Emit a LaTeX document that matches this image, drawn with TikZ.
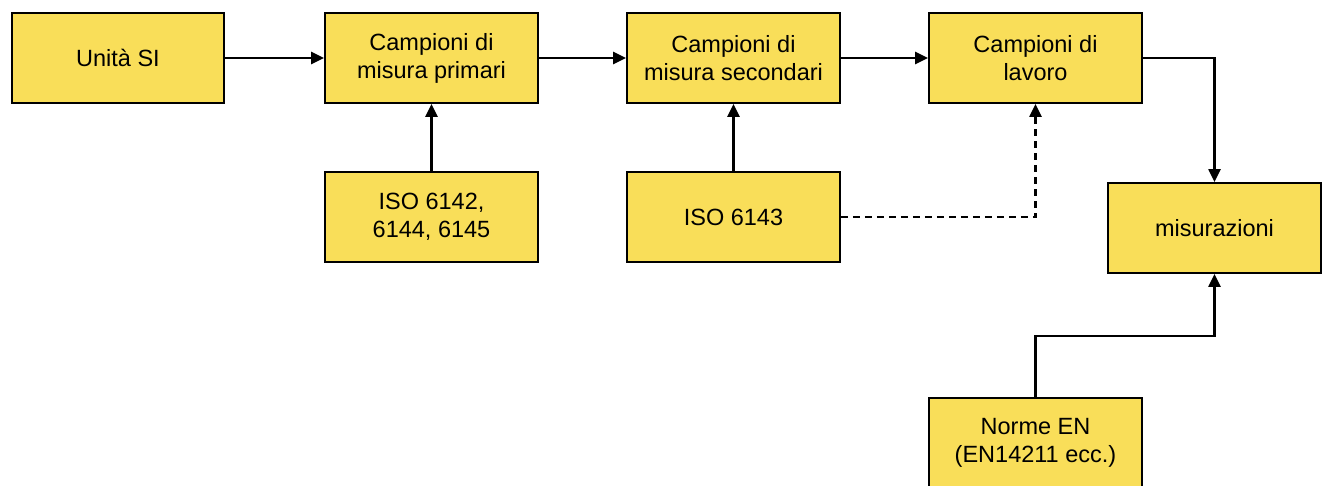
\documentclass[tikz,border=0pt]{standalone}
\usepackage{fontspec}
\setmainfont{Liberation Sans}
\usetikzlibrary{arrows.meta}
\definecolor{boxfill}{RGB}{249,222,89}
\begin{document}
\begin{tikzpicture}[x=1pt,y=-1pt,
  box/.style={draw=black, line width=1.8pt, fill=boxfill, minimum width=213pt, minimum height=90pt, inner sep=0pt, align=center, font=\fontsize{23.5}{28}\selectfont},
  conn/.style={line width=2.3pt, -{Triangle[length=13pt,width=12pt]}},
  dashconn/.style={conn, dash pattern=on 7pt off 5pt}]
\useasboundingbox (0,0) rectangle (1328,486);
\node[box, minimum width=212pt] (U) at (118,58) {Unità SI};
\node[box] (P) at (431.5,58) {Campioni di\\misura primari};
\node[box] (S) at (733.5,58) {Campioni di\\misura secondari};
\node[box] (L) at (1035.5,58) {Campioni di\\lavoro};
\node[box] (I1) at (431.5,217) {ISO 6142,\\6144, 6145};
\node[box] (I2) at (733.5,217) {ISO 6143};
\node[box] (M) at (1214.5,228) {misurazioni};
\node[box] (N) at (1035.5,443) {Norme EN\\(EN14211 ecc.)};
\coordinate (bend) at (1035.5,336);
\draw[conn] (U) -- (P);
\draw[conn] (P) -- (S);
\draw[conn] (S) -- (L);
\draw[conn] (L.east) -| (M.north);
\draw[conn] (I1) -- (P);
\draw[conn] (I2) -- (S);
\draw[dashconn] (I2.east) -| (L.south);
\draw[conn] (N.north) -- (bend) -| (M.south);
\end{tikzpicture}
\end{document}
